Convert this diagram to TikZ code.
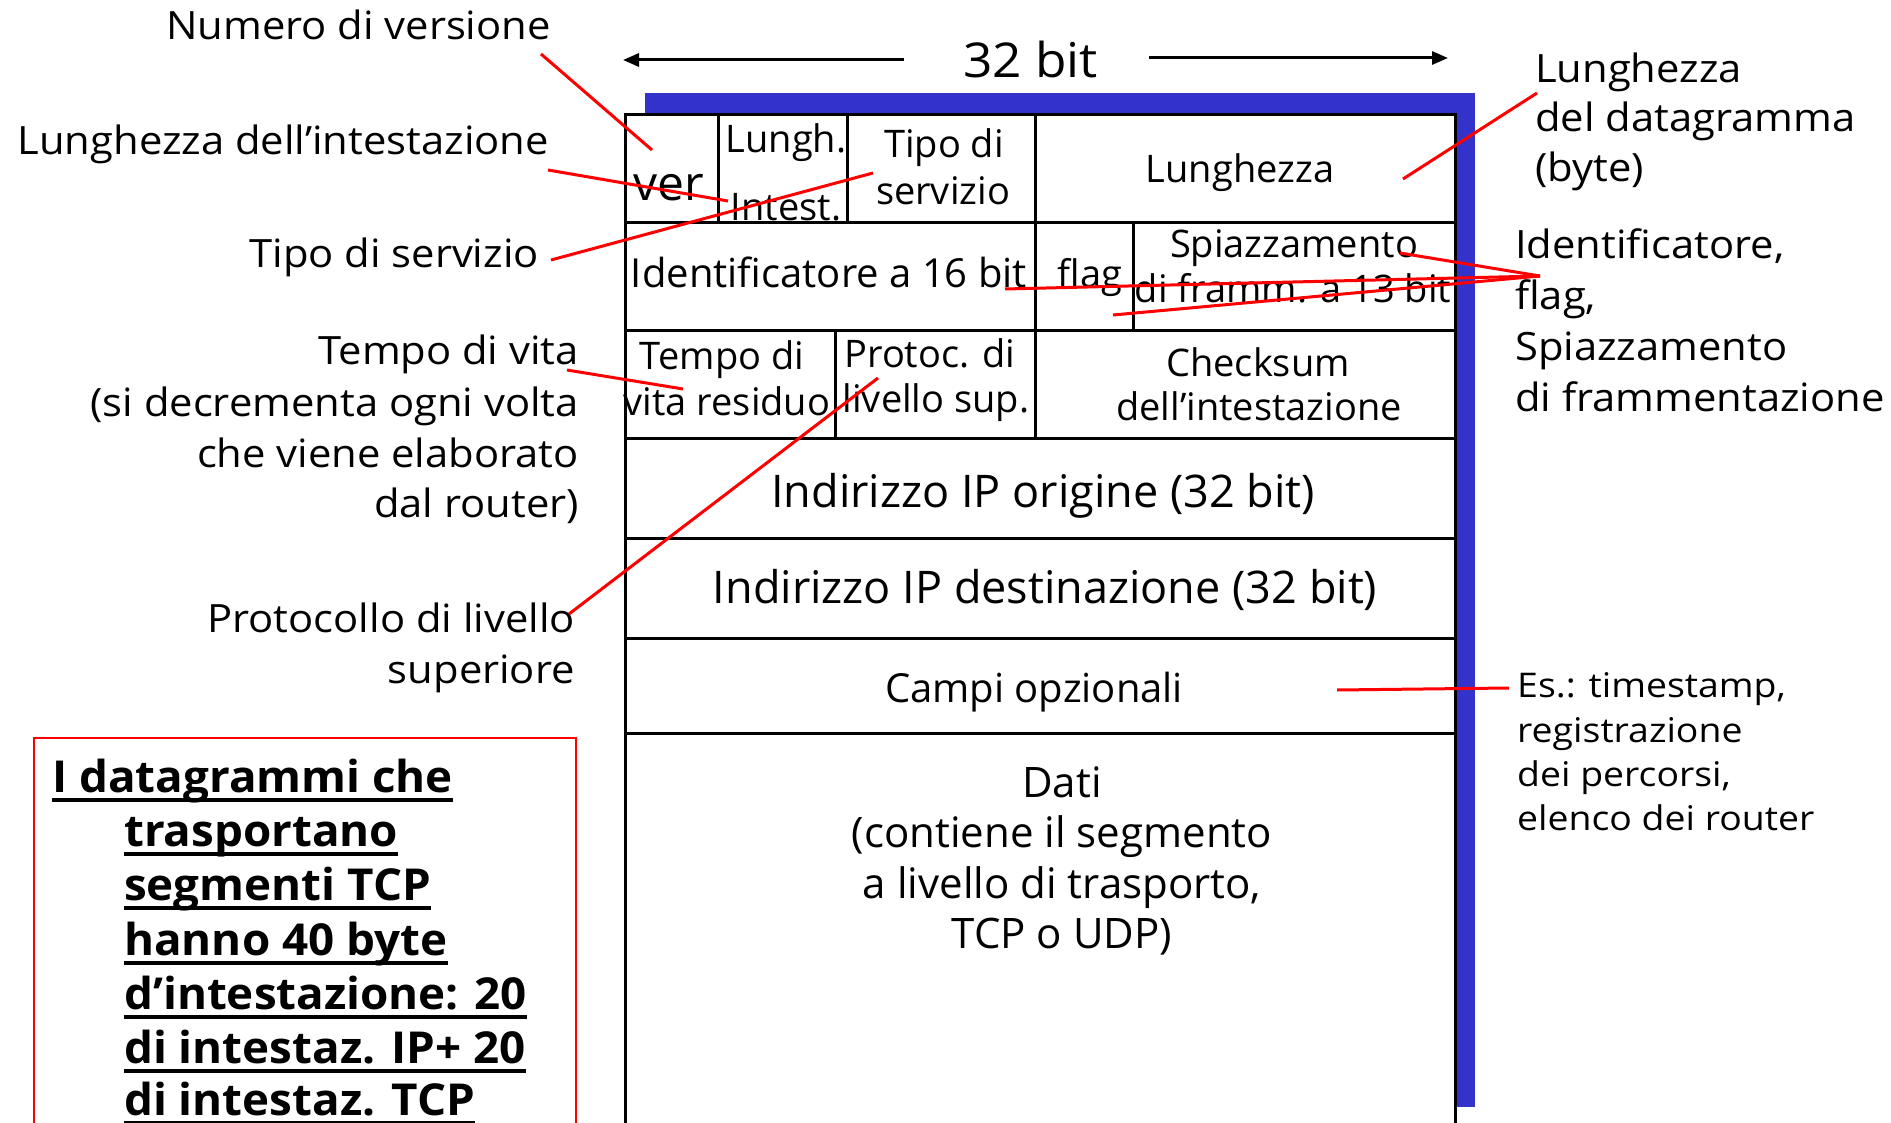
\documentclass[tikz,border=0pt]{standalone}
\usepackage{fontspec}
\setmainfont{Open Sans}
\newfontfamily\widefont[FakeStretch=1.07]{Open Sans}
\newfontfamily\esfont[FakeStretch=1.1]{Open Sans}
\newfontfamily\boxfont[FakeStretch=1.04]{Open Sans}
\usetikzlibrary{arrows.meta}
\definecolor{frameblue}{RGB}{51,51,204}
\definecolor{callred}{RGB}{255,0,0}
\tikzset{
  tbl/.style={line width=3pt, draw=black},
  callout/.style={line width=3pt, draw=callred},
  cell/.style={inner sep=0pt, font=\fontsize{38}{46}\selectfont},
  bigcell/.style={inner sep=0pt, font=\fontsize{45}{52}\selectfont},
  datacell/.style={inner sep=0pt, font=\fontsize{42}{50}\selectfont},
  lbl/.style={inner sep=0pt, font=\widefont\fontsize{39}{46}\selectfont},
  smalllbl/.style={inner sep=0pt, font=\esfont\fontsize{34}{40}\selectfont},
  boxtxt/.style={inner sep=0pt, anchor=base west, font=\boxfont\bfseries\fontsize{44}{50}\selectfont},
  ul/.style={line width=3.5pt, draw=black},
  dimarrow/.style={line width=3pt, -{Triangle[length=16pt,width=13pt]}}
}
\begin{document}
\begin{tikzpicture}[x=1pt,y=-1pt]
\useasboundingbox (0,0) rectangle (1891,1123);
\fill[white] (0,0) rectangle (1891,1123);

% blue frame
\fill[frameblue] (645,93) rectangle (1475,1107);
% table body
\fill[white] (625,115) rectangle (1455,1140);

% width arrows
\node[inner sep=0pt, anchor=base west, font=\widefont\fontsize{48}{56}\selectfont] (bits) at (963,78) {32 bit};
\coordinate (arrLs) at (904,60);
\coordinate (arrLe) at (623,60);
\coordinate (arrRs) at (1149,58);
\coordinate (arrRe) at (1448,58);
\draw[dimarrow] (arrLs) -- (arrLe);
\draw[dimarrow] (arrRs) -- (arrRe);

% ---- table texts ----
\node[cell, anchor=base west, font=\fontsize{48}{56}\selectfont] (ver) at (633,201) {ver};
\node[cell, anchor=base] (lungh) at (786,153) {Lungh.};
\node[cell, anchor=base] (intest) at (786,221) {Intest.};
\node[cell, anchor=base] (tipo1) at (944,158) {Tipo di};
\node[cell, anchor=base] (tipo2) at (943,205) {servizio};
\node[cell, anchor=base] (lunghezza) at (1240,183) {Lunghezza};
\node[cell, anchor=base, font=\fontsize{40}{46}\selectfont] (ident) at (829,288) {Identificatore a 16 bit};
\node[cell, anchor=base] (flag) at (1090,288) {flag};
\node[cell, anchor=base] (spiaz1) at (1294,258) {Spiazzamento};
\node[cell, anchor=base] (spiaz2) at (1293,303) {di framm. a 13 bit};
\node[cell, anchor=base] (ttl1) at (722,370) {Tempo di};
\node[cell, anchor=base] (ttl2) at (727,415) {vita residuo};
\node[cell, anchor=base] (prot1) at (930,368) {Protoc. di};
\node[cell, anchor=base] (prot2) at (936,413) {livello sup.};
\node[cell, anchor=base] (chk1) at (1258,377) {Checksum};
\node[cell, anchor=base] (chk2) at (1259,420) {dell’intestazione};
\node[bigcell, anchor=base] (src) at (1043,507) {Indirizzo IP origine (32 bit)};
\node[bigcell, anchor=base] (dst) at (1045,603) {Indirizzo IP destinazione (32 bit)};
\node[cell, anchor=base, font=\fontsize{40}{46}\selectfont] (opt) at (1034,702) {Campi opzionali};
\node[datacell, anchor=base] (dati1) at (1062,797) {Dati};
\node[datacell, anchor=base] (dati2) at (1062,847) {(contiene il segmento};
\node[datacell, anchor=base] (dati3) at (1062,898) {a livello di trasporto,};
\node[datacell, anchor=base] (dati4) at (1062,948) {TCP o UDP)};

% ---- table lines ----
\draw[tbl] (625,115) -- (1455,115);
\draw[tbl] (625,113.5) -- (625,1140);
\draw[tbl] (1455,113.5) -- (1455,1140);
\foreach \yy in {223,331,438,538,638,733} \draw[tbl] (625,\yy) -- (1455,\yy);
\foreach \xx in {718,847,1035} \draw[tbl] (\xx,115) -- (\xx,223);
\foreach \xx in {1035,1133} \draw[tbl] (\xx,223) -- (\xx,331);
\foreach \xx in {835,1035} \draw[tbl] (\xx,331) -- (\xx,438);

% ---- left labels ----
\node[lbl, anchor=base east] (numver) at (551,40) {Numero di versione};
\node[lbl, anchor=base east] (lunint) at (549,155) {Lunghezza dell’intestazione};
\node[lbl, anchor=base east] (tiposer) at (539,268) {Tipo di servizio};
\node[lbl, anchor=base east] (tv1) at (579,365) {Tempo di vita};
\node[lbl, anchor=base east] (tv2) at (579,417) {(si decrementa ogni volta};
\node[lbl, anchor=base east] (tv3) at (579,467) {che viene elaborato};
\node[lbl, anchor=base east] (tv4) at (579,517) {dal router)};
\node[lbl, anchor=base east] (pl1) at (575,632) {Protocollo di livello};
\node[lbl, anchor=base east] (pl2) at (575,683) {superiore};

% ---- right labels ----
\node[lbl, anchor=base west] (ld1) at (1535,83) {Lunghezza};
\node[lbl, anchor=base west] (ld2) at (1535,132) {del datagramma};
\node[lbl, anchor=base west] (ld3) at (1535,182) {(byte)};
\node[lbl, anchor=base west] (if1) at (1515,259) {Identificatore,};
\node[lbl, anchor=base west] (if2) at (1515,310) {flag,};
\node[lbl, anchor=base west] (if3) at (1515,361) {Spiazzamento};
\node[lbl, anchor=base west] (if4) at (1515,411) {di frammentazione};
\node[smalllbl, anchor=base west] (es1) at (1517,697) {Es.: timestamp,};
\node[smalllbl, anchor=base west] (es2) at (1517,742) {registrazione};
\node[smalllbl, anchor=base west] (es3) at (1517,786) {dei percorsi,};
\node[smalllbl, anchor=base west] (es4) at (1517,830) {elenco dei router};

% ---- red callouts ----
\coordinate (c1a) at (541,54);   \coordinate (c1b) at (652,150);
\coordinate (c2a) at (548,170);  \coordinate (c2b) at (728,201);
\coordinate (c3a) at (551,260);  \coordinate (c3b) at (873,173);
\coordinate (c4a) at (567,370);  \coordinate (c4b) at (683,389);
\coordinate (c5a) at (569,614);  \coordinate (c5b) at (878,378);
\coordinate (c6a) at (1537,93);  \coordinate (c6b) at (1403,179);
\coordinate (c7) at (1540,276);
\coordinate (c7a) at (1005,289); \coordinate (c7b) at (1113,315); \coordinate (c7c) at (1400,253);
\coordinate (c8a) at (1509,688); \coordinate (c8b) at (1337,690);
\draw[callout] (c1a) -- (c1b);
\draw[callout] (c2a) -- (c2b);
\draw[callout] (c3a) -- (c3b);
\draw[callout] (c4a) -- (c4b);
\draw[callout] (c5a) -- (c5b);
\draw[callout] (c6a) -- (c6b);
\draw[callout] (c7) -- (c7a);
\draw[callout] (c7) -- (c7b);
\draw[callout] (c7) -- (c7c);
\draw[callout] (c8a) -- (c8b);

% ---- note box ----
\draw[callred, line width=2pt] (34,738) rectangle (576,1160);
\node[boxtxt] (n1) at (52,792) {I datagrammi che};
\node[boxtxt] (n2) at (124,846) {trasportano};
\node[boxtxt] (n3) at (124,900) {segmenti TCP};
\node[boxtxt] (n4) at (124,955) {hanno 40 byte};
\node[boxtxt] (n5) at (124,1009) {d’intestazione: 20};
\node[boxtxt] (n6) at (124,1063) {di intestaz. IP+ 20};
\node[boxtxt] (n7) at (124,1115) {di intestaz. TCP};
\foreach \n in {n1,n2,n3,n4,n5,n6,n7}
  \draw[ul] ([yshift=-8pt]\n.base west) -- ([yshift=-8pt]\n.base east);
\end{tikzpicture}
\end{document}
